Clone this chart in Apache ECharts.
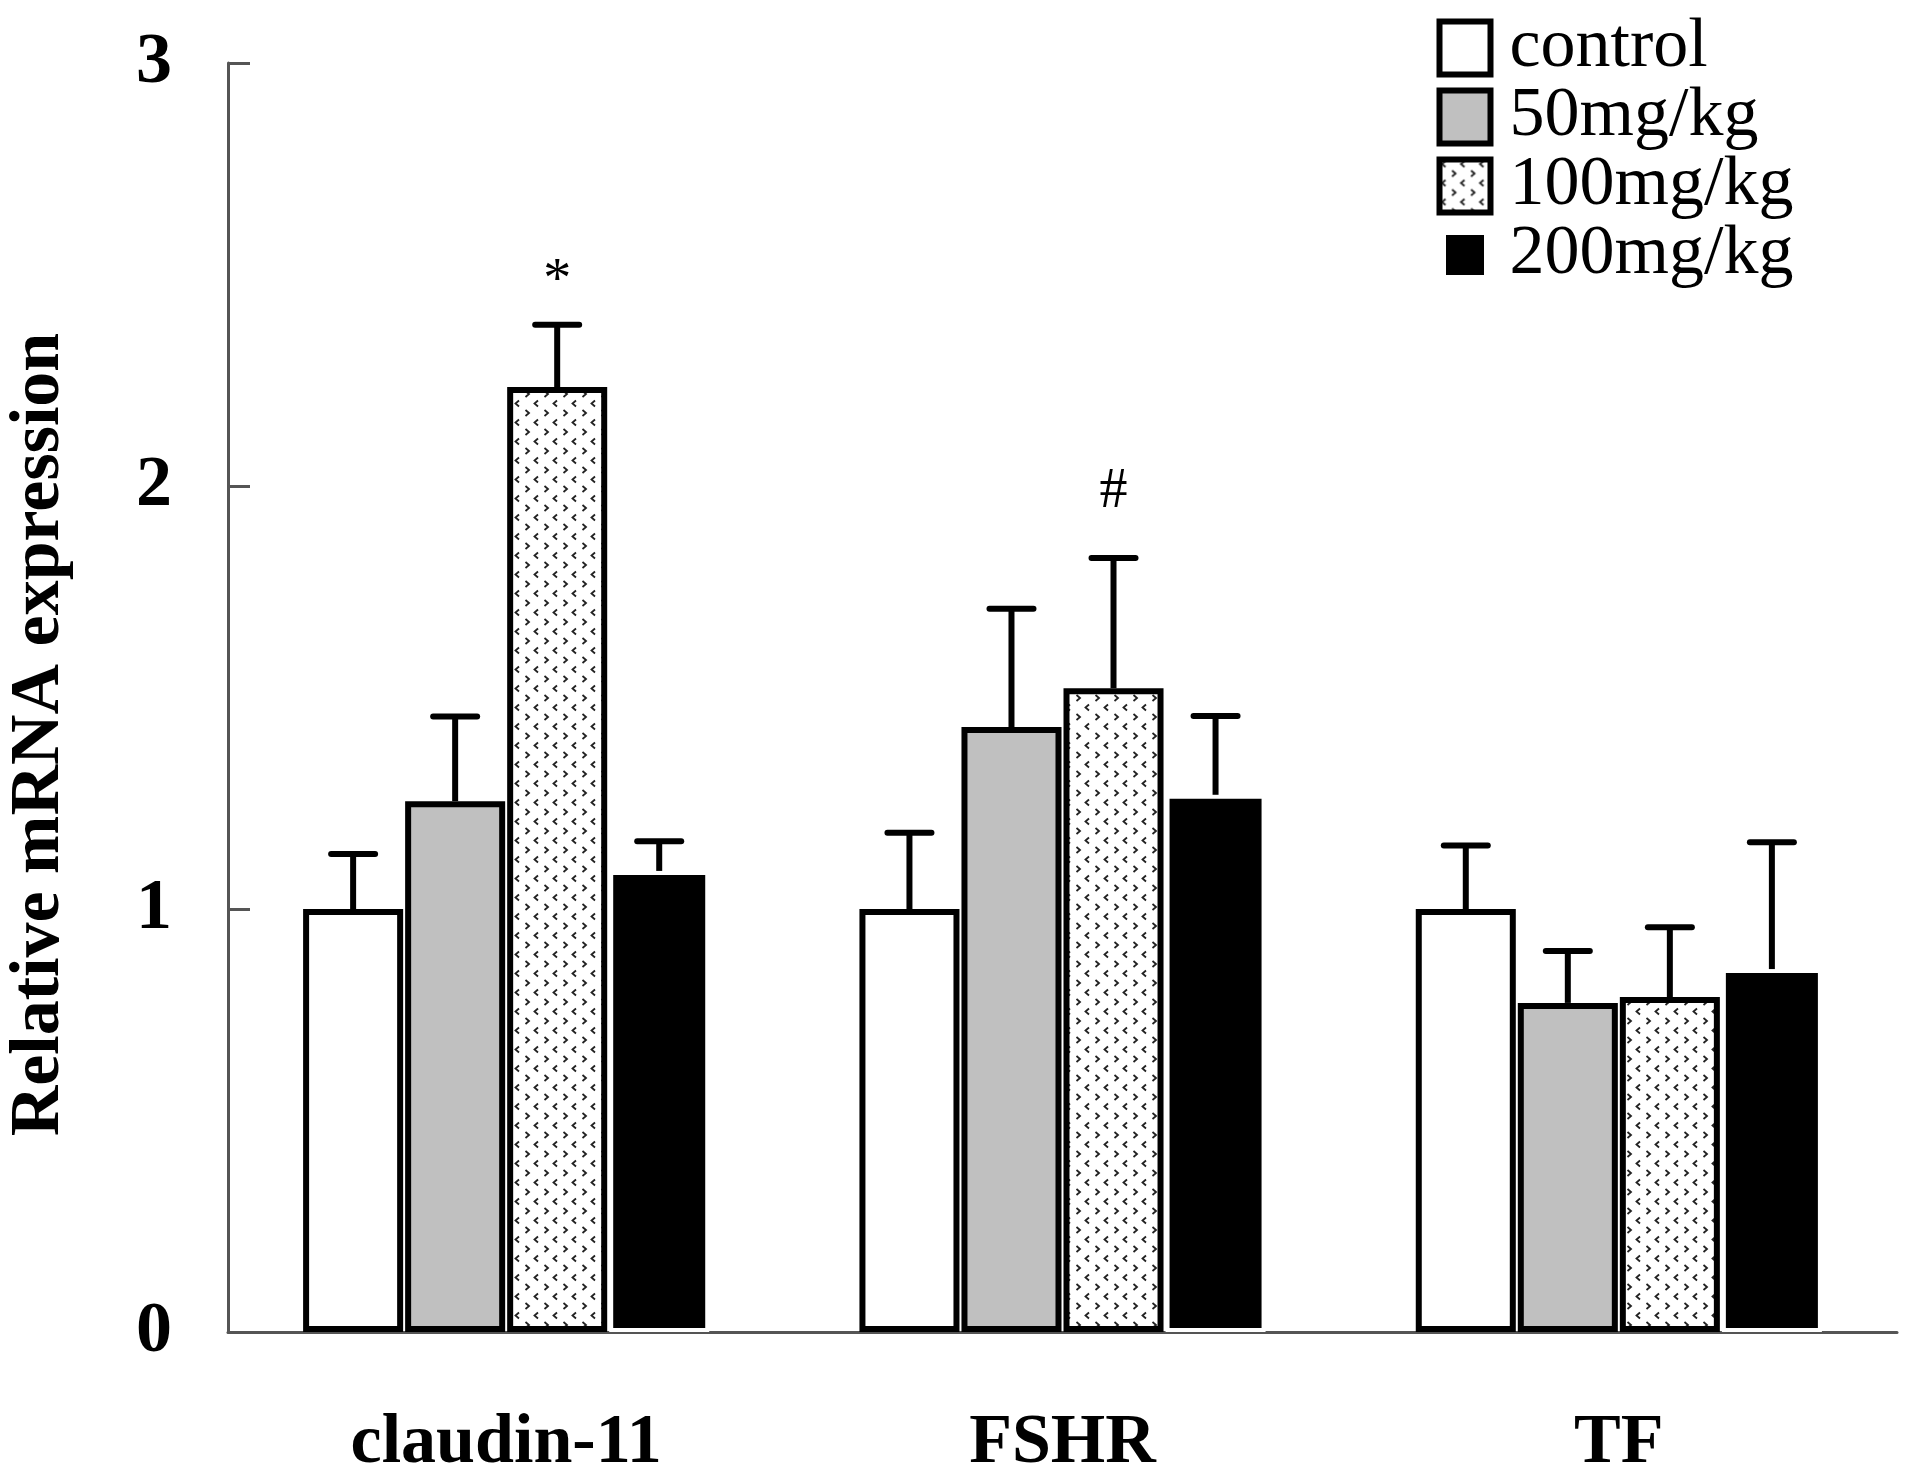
<!DOCTYPE html>
<html>
<head>
<meta charset="utf-8">
<title>Relative mRNA expression</title>
<script src="https://cdn.jsdelivr.net/npm/echarts@6/dist/echarts.min.js"></script>
<style>
  html, body { margin: 0; padding: 0; background: #fff; }
  #chart { width: 1907px; height: 1480px; }
</style>
</head>
<body>
<div id="chart"></div>
<script>
// data
var categories = ['claudin-11', 'FSHR', 'TF'];
var groupNames = ['control', '50mg/kg', '100mg/kg', '200mg/kg'];

var meanControl = [1.00, 1.00, 1.00];
var mean50 = [1.255, 1.43, 0.778];
var mean100 = [2.234, 1.522, 0.792];
var mean200 = [1.09, 1.27, 0.858];

var sdControl = [0.13, 0.18, 0.15];
var sd50 = [0.20, 0.28, 0.123];
var sd100 = [0.147, 0.308, 0.165];
var sd200 = [0.07, 0.186, 0.30];

var sigMarks100 = ['*', '#', ''];

var yTicks = [0, 1, 2, 3];

// layout of the grouped bars (shared with the error bar series)
var CAT_GAP = 0.27;
var BAR_GAP = 0.02;

// dotted fill for the 100mg/kg bars
function makeDots() {
    var cv = document.createElement('canvas');
    cv.width = 19; cv.height = 19;
    var ctx = cv.getContext('2d');
    ctx.fillStyle = '#fff';
    ctx.fillRect(0, 0, 19, 19);
    ctx.strokeStyle = '#222';
    ctx.lineWidth = 1.8;
    // "<"
    ctx.beginPath();
    ctx.moveTo(6, 1.5); ctx.lineTo(2.5, 4.5); ctx.lineTo(6, 7.5);
    ctx.stroke();
    // ">"
    ctx.beginPath();
    ctx.moveTo(12.5, 11); ctx.lineTo(16, 14); ctx.lineTo(12.5, 17);
    ctx.stroke();
    return cv;
}
var dots = { image: makeDots(), repeat: 'repeat' };

var means = [meanControl, mean50, mean100, mean200];
var sds = [sdControl, sd50, sd100, sd200];
var marks = [['', '', ''], ['', '', ''], sigMarks100, ['', '', '']];

var errItems = [];
for (var g = 0; g < 4; g++) {
    for (var c = 0; c < categories.length; c++) {
        errItems.push({ value: [c, g, means[g][c], sds[g][c]], mark: marks[g][c] });
    }
}

var fills = ['#ffffff', '#c0c0c0', dots, '#000000'];
var borderColors = ['#000', '#000', '#000', '#fff'];
var borders = [6, 6, 6, 4];

var serif = '"Liberation Serif", "Times New Roman", serif';

var chart = echarts.init(document.getElementById('chart'));

var barSeries = groupNames.map(function (name, i) {
    return {
        name: name,
        type: 'bar',
        data: means[i],
        barCategoryGap: (CAT_GAP * 100) + '%',
        barGap: (BAR_GAP * 100) + '%',
        itemStyle: { color: fills[i], borderColor: borderColors[i], borderWidth: borders[i] },
        emphasis: { disabled: true },
        z: 2
    };
});

var errSeries = {
    type: 'custom',
    name: 'sd',
    z: 5,
    data: errItems,
    renderItem: function (params, api) {
        var c = api.value(0), g = api.value(1), m = api.value(2), s = api.value(3);
        var W = api.size([1, 0])[0];
        var inner = W * (1 - CAT_GAP);
        var bw = inner / (4 + 3 * BAR_GAP);
        var cx = api.coord([c, 0])[0] - inner / 2 + g * bw * (1 + BAR_GAP) + bw / 2;
        var y0 = api.coord([c, m])[1];
        var y1 = api.coord([c, m + s])[1];
        var children = [
            { type: 'line', shape: { x1: cx, y1: y0, x2: cx, y2: y1 },
              style: { stroke: '#000', lineWidth: 6 } },
            { type: 'line', shape: { x1: cx - 22, y1: y1, x2: cx + 22, y2: y1 },
              style: { stroke: '#000', lineWidth: 6, lineCap: 'round' } }
        ];
        var mk = errItems[params.dataIndex].mark;
        if (mk) {
            children.push({
                type: 'text',
                style: {
                    text: mk, x: cx, y: y1 - (mk === '*' ? 43 : 66),
                    align: 'center', verticalAlign: 'middle',
                    font: '56px ' + serif, fill: '#000'
                }
            });
        }
        return { type: 'group', children: children };
    }
};

var legendData = groupNames.map(function (name, i) {
    if (i === 3) {
        return { name: name, itemStyle: { color: '#000', borderColor: '#fff', borderWidth: 13 } };
    }
    return { name: name, itemStyle: { borderColor: '#000', borderWidth: 6 } };
});

chart.setOption({
    animation: false,
    backgroundColor: '#fff',
    legend: {
        data: legendData,
        orient: 'vertical',
        left: 1428,
        top: 8,
        itemWidth: 51,
        itemHeight: 53,
        itemGap: -1,
        icon: 'rect',
        selectedMode: false,
        textStyle: { fontFamily: serif, fontSize: 70, color: '#000', padding: [0, 0, 0, 14] }
    },
    grid: { left: 228, right: 10, top: 63, bottom: 148, outerBoundsMode: 'none' },
    xAxis: {
        type: 'category',
        data: categories,
        axisLine: { lineStyle: { color: '#555', width: 3 } },
        axisTick: { inside: true, length: 22, lineStyle: { color: '#555', width: 3 } },
        axisLabel: { margin: 77, fontFamily: serif, fontWeight: 'bold', fontSize: 70, color: '#000' }
    },
    yAxis: {
        type: 'value',
        min: yTicks[0],
        max: yTicks[yTicks.length - 1],
        interval: 1,
        name: 'Relative mRNA expression',
        nameLocation: 'middle',
        nameGap: 153,
        nameTextStyle: { fontFamily: serif, fontWeight: 'bold', fontSize: 70, color: '#000', padding: [0, 74, 0, 0] },
        axisLine: { show: true, lineStyle: { color: '#555', width: 3 } },
        axisTick: { show: true, inside: true, length: 22, lineStyle: { color: '#555', width: 3 } },
        splitLine: { show: false },
        axisLabel: { margin: 56, fontFamily: serif, fontWeight: 'bold', fontSize: 72, color: '#000' }
    },
    series: barSeries.concat([errSeries])
});
</script>
</body>
</html>
